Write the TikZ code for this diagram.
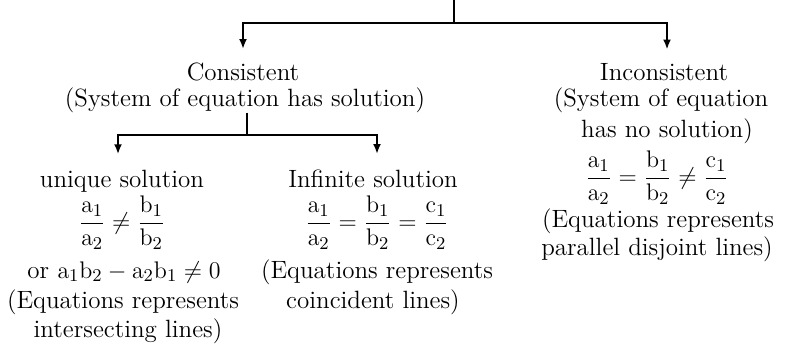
\documentclass[tikz,border=0pt]{standalone}
\usepackage{amsmath}
\usetikzlibrary{arrows.meta}
\begin{document}
\begin{tikzpicture}[x=0.5pt,y=-0.5pt,
  font=\fontsize{12.5}{15}\selectfont,
  txt/.style={anchor=base, inner sep=0pt},
  conn/.style={line width=1.4pt},
  arr/.style={conn,-{Latex[length=5pt,width=4pt]}}]
\useasboundingbox (0,0) rectangle (785,345);
% level 1
\node[txt] (cons) at (243,80) {Consistent};
\node[txt] (conssys) at (245,106) {(System of equation has solution)};
\node[txt] (incons) at (664,80) {Inconsistent};
\node[txt] (inconssys1) at (661,106) {(System of equation};
\node[txt] (inconssys2) at (667,137) {has no solution)};
\node[txt] (inconsfrac) at (657,184) {$\dfrac{\mathrm{a}_1}{\mathrm{a}_2}=\dfrac{\mathrm{b}_1}{\mathrm{b}_2}\neq\dfrac{\mathrm{c}_1}{\mathrm{c}_2}$};
\node[txt] (inconseq1) at (658,227) {(Equations represents};
\node[txt] (inconseq2) at (657,255) {parallel disjoint lines)};
% level 2 left
\node[txt] (unique) at (122,187) {unique solution};
\node[txt] (uniquefrac) at (122,229) {$\dfrac{\mathrm{a}_1}{\mathrm{a}_2}\neq\dfrac{\mathrm{b}_1}{\mathrm{b}_2}$};
\node[txt] (uniqueor) at (124,278) {or $\mathrm{a}_1\mathrm{b}_2-\mathrm{a}_2\mathrm{b}_1\neq 0$};
\node[txt] (uniqueeq1) at (123,308) {(Equations represents};
\node[txt] (uniqueeq2) at (128,337) {intersecting lines)};
% level 2 middle
\node[txt] (inf) at (373,187) {Infinite solution};
\node[txt] (inffrac) at (377,229) {$\dfrac{\mathrm{a}_1}{\mathrm{a}_2}=\dfrac{\mathrm{b}_1}{\mathrm{b}_2}=\dfrac{\mathrm{c}_1}{\mathrm{c}_2}$};
\node[txt] (infeq1) at (377,278) {(Equations represents};
\node[txt] (infeq2) at (373,308) {coincident lines)};
% connectors
\coordinate (top) at (454,0);
\coordinate (j1) at (454,23);
\draw[conn] (top) -- (j1);
\draw[arr, shorten >=6.5pt] (j1) -| (cons.north);
\draw[arr, shorten >=6.5pt] (j1) -| ([xshift=1.5pt]incons.north);
\coordinate (j2) at (247,135);
\draw[conn] ([xshift=1pt]conssys.south) -- (j2);
\draw[arr, shorten >=7.5pt] (j2) -| ([xshift=-2pt]unique.north);
\draw[arr, shorten >=7.5pt] (j2) -| ([xshift=2pt]inf.north);
\end{tikzpicture}
\end{document}
